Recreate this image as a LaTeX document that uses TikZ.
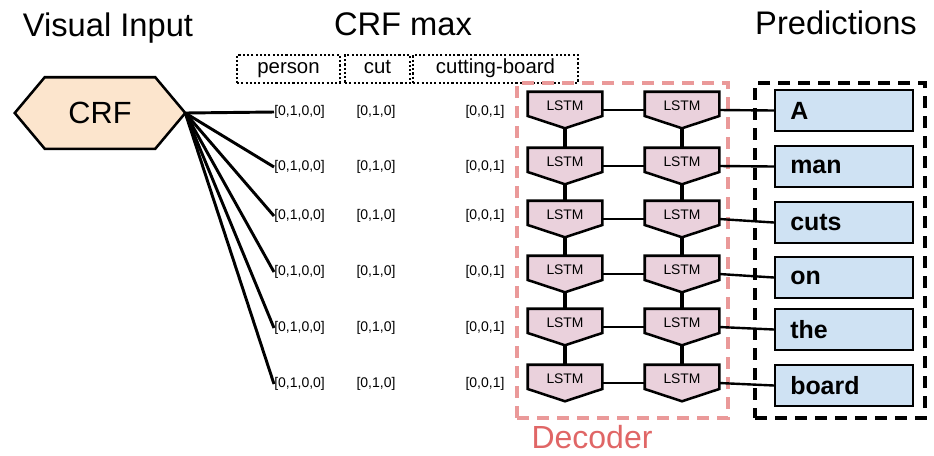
\documentclass[tikz,border=0pt]{standalone}
\usepackage{fontspec}
\setmainfont{Liberation Sans}
\usetikzlibrary{calc}

\definecolor{crffill}{HTML}{FCE5CD}
\definecolor{lstmfill}{HTML}{EAD1DC}
\definecolor{predfill}{HTML}{CFE2F3}
\definecolor{decline}{HTML}{EA9999}
\definecolor{dectext}{HTML}{E06666}

\tikzset{
  title/.style={font=\fontsize{24.5}{28}\selectfont, anchor=base, inner sep=0pt},
  crfbox/.style={minimum width=127.5pt, minimum height=53.25pt, inner sep=0pt},
  crftext/.style={font=\fontsize{23}{26}\selectfont, inner sep=0pt},
  crfshape/.style={draw=black, fill=crffill, line width=1.9pt, line join=miter},
  tagbox/.style={draw=black, line width=1.6pt, dash pattern=on 1.6pt off 1.6pt,
    minimum height=21pt, inner sep=0pt, text height=0.8em, text depth=0.1em,
    font=\fontsize{15.3}{18}\selectfont},
  vec/.style={font=\fontsize{10.5}{12}\selectfont, inner sep=0pt},
  fan/.style={line width=2.2pt},
  lstmbox/.style={minimum width=55.5pt, minimum height=27pt, inner sep=0pt},
  lstmshape/.style={draw=black, fill=lstmfill, line width=1.9pt, line join=miter},
  lstmtext/.style={font=\fontsize{10.4}{12}\selectfont, inner sep=0pt},
  vlink/.style={line width=2.3pt},
  hlink/.style={line width=1.6pt},
  outlink/.style={line width=1.8pt},
  predbox/.style={draw=black, fill=predfill, line width=1.6pt,
    minimum width=103.5pt, minimum height=30.75pt, inner sep=0pt},
  predtext/.style={font=\bfseries\fontsize{18.7}{22}\selectfont, anchor=west, inner sep=0pt},
  decframe/.style={draw=decline, line width=2.6pt, dash pattern=on 9pt off 6pt,
    minimum width=158.25pt, minimum height=251.25pt, inner sep=0pt},
  predframe/.style={draw=black, line width=2.6pt, dash pattern=on 9pt off 6pt,
    minimum width=127.5pt, minimum height=251.25pt, inner sep=0pt},
}

\begin{document}
\begin{tikzpicture}[x=0.75pt, y=-0.75pt]
  \useasboundingbox (0,0) rectangle (934,455);

  % column headings
  \node[title] (hvis) at (108,36) {Visual Input};
  \node[title] (hcrf) at (403,35) {CRF max};
  \node[title] (hpred) at (836,34) {Predictions};

  % CRF hexagon
  \node[crfbox] (crf) at (100,113) {};
  \draw[crfshape] (crf.west) -- ($(crf.north west)+(30,0)$) -- ($(crf.north east)+(-30,0)$)
    -- (crf.east) -- ($(crf.south east)+(-30,0)$) -- ($(crf.south west)+(30,0)$) -- cycle;
  \node[crftext] (crflabel) at (crf.center) {CRF};

  % label groups of the one-hot vectors
  \node[tagbox, minimum width=77.25pt] (tperson) at (288.5,69) {person};
  \node[tagbox, minimum width=48.75pt] (tcut) at (377.5,69) {cut};
  \node[tagbox, minimum width=123.75pt] (tboard) at (495.5,69) {cutting-board};

  % frames
  \node[decframe] (decoder) at (622.5,250.5) {};
  \node[predframe] (predictions) at (840,250.5) {};
  \node[font=\fontsize{24}{28}\selectfont, text=dectext, anchor=base, inner sep=0pt]
    (declabel) at (592,448) {Decoder};

  % rows: LSTM pair, prediction word, one-hot vectors
  \foreach \i/\ly/\vy/\py/\w in {1/110/112/110.5/A, 2/166/167/166.5/man,
      3/219/216/222.5/cuts, 4/274/272/277.5/on, 5/327/328/329.5/the,
      6/383/384/385.5/board}{
    \node[lstmbox] (la\i) at (565,\ly) {};
    \node[lstmbox] (lb\i) at (682,\ly) {};
    \node[vec, anchor=west] (va\i) at (274,\vy) {[0,1,0,0]};
    \node[vec] (vb\i) at (376,\vy) {[0,1,0]};
    \node[vec] (vc\i) at (485,\vy) {[0,0,1]};
    \node[predbox] (p\i) at (844,\py) {};
    \node[predtext] (pw\i) at (790,\py) {\w};
    \draw[fan] (crf.east) -- (va\i.west);
    \draw[hlink] (la\i.east) -- (lb\i.west);
    \draw[outlink] (lb\i.east) -- (p\i.west);
  }

  % vertical links between stacked LSTMs
  \foreach \i/\j in {1/2,2/3,3/4,4/5,5/6}{
    \draw[vlink] (la\i.south) -- (la\j.north);
    \draw[vlink] (lb\i.south) -- (lb\j.north);
  }

  % LSTM cells
  \foreach \i in {1,...,6}{
    \foreach \c in {la,lb}{
      \draw[lstmshape] (\c\i.north west) -- (\c\i.north east) -- ($(\c\i.east)+(0,6)$)
        -- (\c\i.south) -- ($(\c\i.west)+(0,6)$) -- cycle;
      \node[lstmtext] (\c t\i) at ($(\c\i.center)+(0,-4)$) {LSTM};
    }
  }
\end{tikzpicture}
\end{document}
